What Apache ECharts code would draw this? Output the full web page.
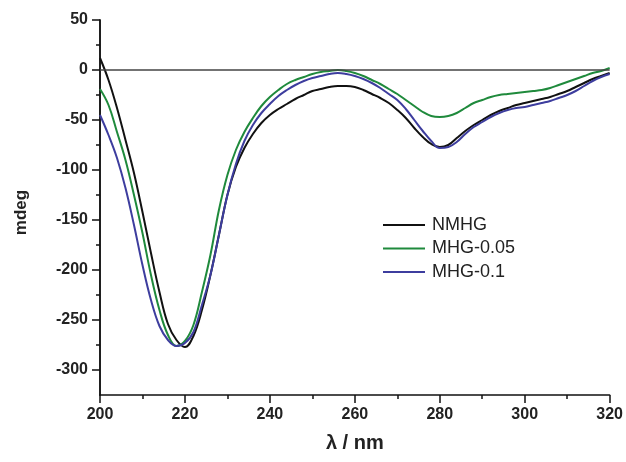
<!DOCTYPE html>
<html>
<head>
<meta charset="utf-8">
<script src="https://cdn.jsdelivr.net/npm/echarts@6/dist/echarts.min.js"></script>
<style>
html,body{margin:0;padding:0;background:#fff;}
#chart{width:626px;height:462px;}
</style>
</head>
<body>
<div id="chart"></div>
<script>
var wavelength = [200,202,204,206,208,210,212,214,216,218,220,222,224,226,228,230,232,234,236,238,240,242,244,246,248,250,252,254,256,258,260,262,264,266,268,270,272,274,276,278,280,282,284,286,288,290,292,294,296,298,300,302,304,306,308,310,312,314,316,318,320];
var seriesNames = ['NMHG','MHG-0.05','MHG-0.1'];
var nmhg = [12,-10,-38,-70,-103,-142,-183,-222,-254,-270,-277,-266,-240,-205,-165,-125,-97,-78,-64,-53,-45,-39,-34,-29,-25,-21,-19,-17,-16,-16,-17,-20,-24,-28,-33,-40,-48,-58,-67,-74,-77,-75,-68,-61,-55,-50,-45,-41,-38,-35,-33,-31,-29,-27,-24,-21,-17,-13,-9,-6,-3];
var mhg005 = [-19,-35,-62,-90,-125,-163,-205,-240,-265,-276,-271,-255,-222,-185,-140,-105,-80,-62,-48,-36,-27,-20,-14,-10,-7,-4,-2,-1,0,-1,-3,-6,-10,-14,-19,-24,-30,-36,-42,-46,-47,-46,-43,-38,-33,-30,-27,-25,-24,-23,-22,-21,-20,-18,-15,-12,-9,-6,-3,-1,2];
var mhg01 = [-45,-65,-88,-118,-155,-195,-230,-256,-270,-276,-273,-262,-235,-205,-165,-125,-94,-71,-55,-43,-34,-26,-20,-15,-11,-8,-6,-4,-3,-4,-6,-9,-13,-18,-24,-30,-39,-50,-61,-71,-78,-77,-72,-64,-57,-52,-47,-43,-40,-38,-37,-35,-33,-31,-28,-25,-21,-16,-11,-7,-4];
var xTicks = [200,220,240,260,280,300,320];
var yMajorTicks = [50,0,-50,-100,-150,-200,-250,-300];
var yMinorTicks = [25,-25,-75,-125,-175,-225,-275];
var colors = ['#111111','#1f8a3c','#3d3d9e'];

function pairs(arr){ return wavelength.map(function(w,i){ return [w, arr[i]]; }); }

var chart = echarts.init(document.getElementById('chart'), null, {renderer:'canvas'});
var font = 'Liberation Sans, Arial, sans-serif';
var option = {
  animation:false,
  backgroundColor:'#ffffff',
  grid:{left:100,right:15,top:20,bottom:67,containLabel:false},
  legend:{
    orient:'vertical', left:378, top:211, itemWidth:42, itemHeight:2, itemGap:5.5,
    icon:'rect',
    data:seriesNames,
    textStyle:{fontFamily:font,fontSize:18,color:'#222',lineHeight:18,padding:[0,0,0,2]}
  },
  xAxis:{
    type:'value', min:200, max:320, interval:20,
    name:'λ / nm', nameLocation:'middle', nameGap:38,
    nameTextStyle:{fontFamily:font,fontSize:20,fontWeight:'bold',color:'#222'},
    axisLine:{show:true,onZero:false,lineStyle:{color:'#111',width:1.5}},
    axisTick:{show:true,inside:false,length:8,lineStyle:{color:'#111',width:1.5}},
    minorTick:{show:true,splitNumber:2,length:4,lineStyle:{color:'#111',width:1.5}},
    axisLabel:{fontFamily:font,fontSize:16,fontWeight:'bold',color:'#222',margin:12,customValues:xTicks},
    splitLine:{show:false}
  },
  yAxis:[{
    type:'value', min:-325, max:50,
    name:'mdeg', nameLocation:'middle', nameGap:70, nameRotate:90,
    nameTextStyle:{fontFamily:font,fontSize:17,fontWeight:'bold',color:'#222',padding:[0,0,0,-10]},
    axisLine:{show:true,onZero:false,lineStyle:{color:'#111',width:1.5}},
    axisTick:{show:true,inside:false,length:8,customValues:yMajorTicks,lineStyle:{color:'#111',width:1.5}},
    axisLabel:{fontFamily:font,fontSize:16,fontWeight:'bold',color:'#222',margin:12,customValues:yMajorTicks},
    splitLine:{show:false}
  },{
    type:'value', min:-325, max:50, position:'left', offset:0,
    axisLine:{show:true,onZero:false,lineStyle:{color:'#111',width:1.5}},
    axisTick:{show:true,inside:false,length:4,customValues:yMinorTicks,lineStyle:{color:'#111',width:1.5}},
    axisLabel:{show:false},
    splitLine:{show:false}
  }],
  series:[
    {name:seriesNames[0],type:'line',smooth:0.4,symbol:'none',data:pairs(nmhg),
     lineStyle:{color:colors[0],width:2},itemStyle:{color:colors[0]},z:3,
     markLine:{silent:true,symbol:'none',label:{show:false},
       lineStyle:{color:'#444',width:1.5,type:'solid'},data:[{yAxis:0}]}},
    {name:seriesNames[1],type:'line',smooth:0.4,symbol:'none',data:pairs(mhg005),
     lineStyle:{color:colors[1],width:2},itemStyle:{color:colors[1]},z:4},
    {name:seriesNames[2],type:'line',smooth:0.4,symbol:'none',data:pairs(mhg01),
     lineStyle:{color:colors[2],width:2},itemStyle:{color:colors[2]},z:5}
  ]
};
chart.setOption(option);
</script>
</body>
</html>
